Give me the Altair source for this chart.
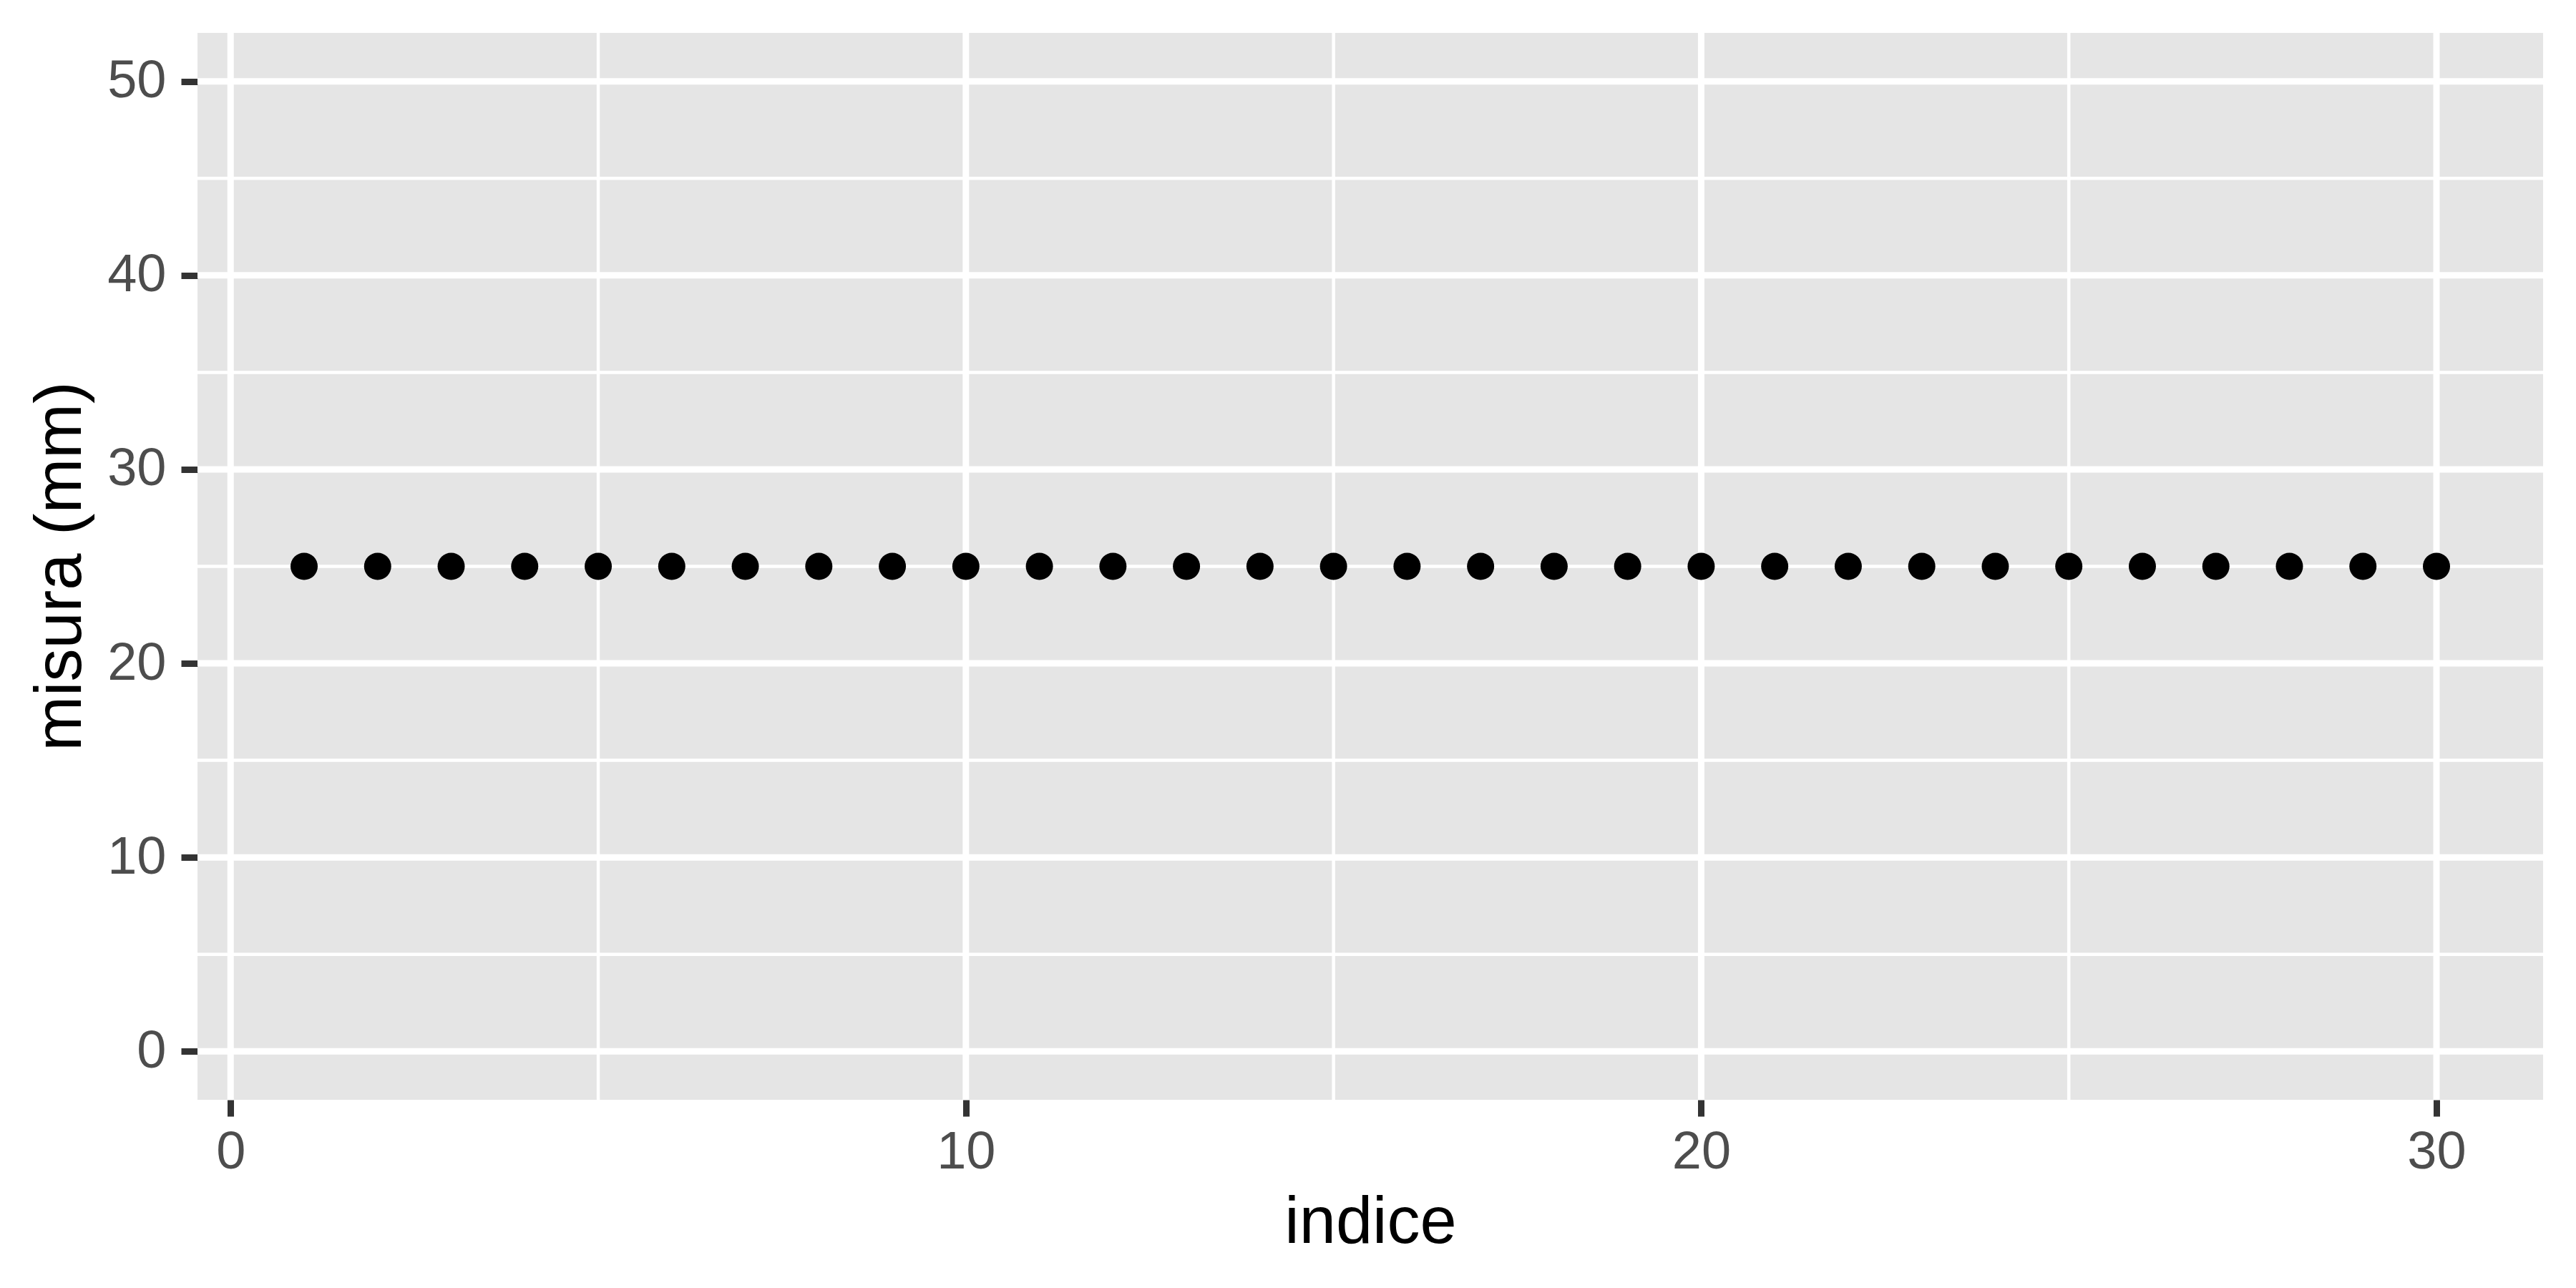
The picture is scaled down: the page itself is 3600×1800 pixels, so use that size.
import altair as alt
import pandas as pd

# data
indice = list(range(1, 31))
misura = [25] * 30

x_major = [0, 10, 20, 30]
x_minor = [5, 15, 25]
y_major = [0, 10, 20, 30, 40, 50]
y_minor = [5, 15, 25, 35, 45]

points_df = pd.DataFrame({"indice": indice, "misura": misura})
xmaj_df = pd.DataFrame({"indice": x_major})
xmin_df = pd.DataFrame({"indice": x_minor})
ymaj_df = pd.DataFrame({"misura": y_major})
ymin_df = pd.DataFrame({"misura": y_minor})

xscale = alt.Scale(domain=[-0.45, 31.45], nice=False, zero=False)
yscale = alt.Scale(domain=[-2.5, 52.5], nice=False, zero=False)

FONT = "Liberation Sans"

xaxis = alt.Axis(
    values=x_major, grid=False, domain=False,
    tickSize=23, tickWidth=9, tickColor="#333333",
    labelFontSize=74, labelColor="#4D4D4D", labelFont=FONT, labelPadding=14,
    title="indice", titleFontSize=92, titleFont=FONT, titleColor="#000000",
    titleFontWeight="normal", titleBaseline="alphabetic", titleY=199,
)
yaxis = alt.Axis(
    values=y_major, grid=False, domain=False,
    tickSize=23, tickWidth=9, tickColor="#333333",
    labelFontSize=74, labelColor="#4D4D4D", labelFont=FONT, labelPadding=21,
    title="misura (mm)", titleFontSize=92, titleFont=FONT, titleColor="#000000",
    titleFontWeight="normal", titleBaseline="alphabetic", titleX=-164, titleY=745,
    titleAngle=270,
)

X = alt.X("indice:Q", scale=xscale, axis=xaxis)
Y = alt.Y("misura:Q", scale=yscale, axis=yaxis)

vmin = alt.Chart(xmin_df).mark_rule(color="white", strokeWidth=4.5).encode(x=X)
vmaj = alt.Chart(xmaj_df).mark_rule(color="white", strokeWidth=9).encode(x=X)
hmin = alt.Chart(ymin_df).mark_rule(color="white", strokeWidth=4.5).encode(y=Y)
hmaj = alt.Chart(ymaj_df).mark_rule(color="white", strokeWidth=9).encode(y=Y)

pts = alt.Chart(points_df).mark_point(
    filled=True, color="black", size=1444, opacity=1, strokeWidth=0
).encode(x=X, y=Y)

chart = alt.layer(vmin, hmin, vmaj, hmaj, pts).properties(
    width=3278, height=1491,
    background="white",
    autosize=alt.AutoSizeParams(type="none"),
    padding={"left": 268, "top": 38, "right": 38, "bottom": 255},
).configure_view(
    fill="#E5E5E5", stroke=None
)

chart.save("out.html", embed_options={"renderer": "svg", "actions": False})
